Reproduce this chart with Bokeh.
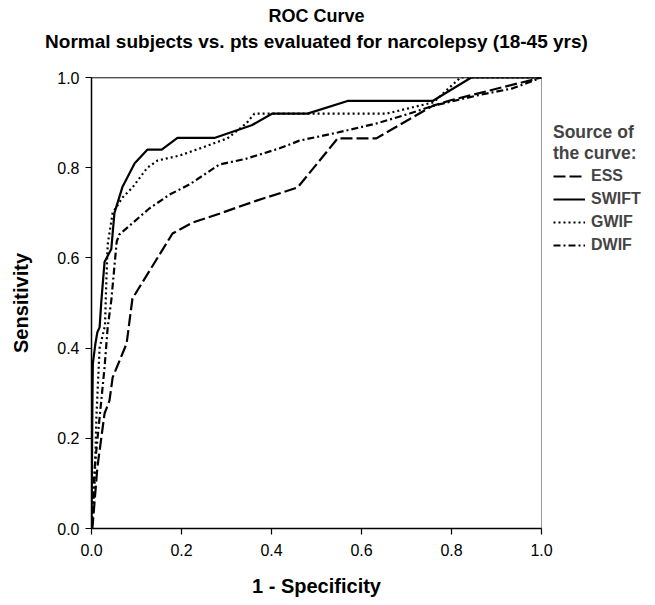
from bokeh.plotting import figure
from bokeh.models import Range1d, Legend, LegendItem, Title, Span, FixedTicker, NumeralTickFormatter
from bokeh.embed import file_html
from bokeh.resources import INLINE

FONT = "Liberation Sans"

title_text = "ROC Curve"
subtitle_text = "Normal subjects vs. pts evaluated for narcolepsy (18-45 yrs)"

ess_x = [0.0, 0.002, 0.013, 0.029, 0.04, 0.047, 0.078, 0.091, 0.18, 0.224, 0.284, 0.367, 0.458, 0.547, 0.633, 0.758, 0.8, 0.9, 1.0]
ess_y = [0.0, 0.0, 0.135, 0.255, 0.284, 0.335, 0.41, 0.51, 0.654, 0.678, 0.698, 0.727, 0.756, 0.865, 0.865, 0.937, 0.95, 0.975, 1.0]

swift_x = [0.0, 0.002, 0.003, 0.009, 0.013, 0.018, 0.022, 0.029, 0.044, 0.051, 0.069, 0.096, 0.124, 0.156, 0.191, 0.273, 0.356, 0.402, 0.48, 0.569, 0.758, 0.844, 1.0]
swift_y = [0.0, 0.28, 0.366, 0.412, 0.435, 0.446, 0.506, 0.591, 0.62, 0.7, 0.758, 0.81, 0.84, 0.84, 0.866, 0.866, 0.894, 0.92, 0.92, 0.948, 0.948, 1.0, 1.0]

gwif_x = [0.0, 0.007, 0.011, 0.018, 0.03, 0.033, 0.036, 0.047, 0.069, 0.091, 0.124, 0.147, 0.196, 0.247, 0.302, 0.344, 0.362, 0.656, 0.76, 0.82, 1.0]
gwif_y = [0.0, 0.1, 0.25, 0.4, 0.45, 0.55, 0.63, 0.70, 0.734, 0.756, 0.80, 0.816, 0.827, 0.845, 0.865, 0.898, 0.92, 0.92, 0.945, 1.0, 1.0]

dwif_x = [0.0, 0.007, 0.018, 0.029, 0.036, 0.044, 0.056, 0.062, 0.129, 0.173, 0.218, 0.284, 0.344, 0.418, 0.462, 0.547, 0.633, 0.707, 0.758, 0.856, 0.936, 1.0]
dwif_y = [0.0, 0.135, 0.246, 0.357, 0.446, 0.506, 0.636, 0.652, 0.71, 0.74, 0.763, 0.807, 0.82, 0.843, 0.86, 0.878, 0.898, 0.92, 0.937, 0.96, 0.976, 1.0]

series_names = ["ESS", "SWIFT", "GWIF", "DWIF"]
ticks = [0.0, 0.2, 0.4, 0.6, 0.8, 1.0]

p = figure(frame_width=450, frame_height=451, output_backend="svg", toolbar_location=None,
           x_range=Range1d(0, 1), y_range=Range1d(0, 1),
           min_border_left=91, min_border_right=99, min_border_bottom=70, min_border_top=0)

# the first "above" item sits nearest the frame: an empty spacer, then the subtitle;
# the plot title is outermost
p.add_layout(Title(text=" ", text_font_size="1px", standoff=23), "above")
p.add_layout(Title(text=subtitle_text, align="center", text_font=FONT, text_font_size="19px",
                   text_font_style="bold", text_color="black", standoff=0), "above")
p.title.text = title_text
p.title.align = "center"
p.title.text_font = FONT
p.title.text_font_size = "18px"
p.title.text_font_style = "bold"
p.title.text_color = "black"
p.title.standoff = 6

p.grid.visible = False
p.outline_line_color = "#9a9a9a"
p.outline_line_width = 1
p.background_fill_color = "white"
p.border_fill_color = "white"

for ax in (p.xaxis[0], p.yaxis[0]):
    ax.ticker = FixedTicker(ticks=ticks)
    ax.formatter = NumeralTickFormatter(format="0.0")
    ax.minor_tick_line_color = None
    ax.major_tick_in = 0
    ax.major_tick_out = 6
    ax.axis_line_color = "black"
    ax.axis_line_width = 1.5
    ax.major_tick_line_color = "black"
    ax.major_tick_line_width = 1.2
    ax.major_label_text_font = FONT
    ax.major_label_text_font_size = "16px"
    ax.major_label_text_color = "black"
    ax.axis_label_text_font = FONT
    ax.axis_label_text_font_size = "20px"
    ax.axis_label_text_font_style = "bold"
    ax.axis_label_text_color = "black"

p.xaxis.axis_label = "1 - Specificity"
p.yaxis.axis_label = "Sensitivity"
p.xaxis.major_label_standoff = 9
p.xaxis.axis_label_standoff = 16
p.yaxis.major_label_standoff = 6
p.yaxis.axis_label_standoff = 22

p.add_layout(Span(location=1.0, dimension="width", line_color="black", line_width=1.5))

lw = 2.2
r_ess = p.line(ess_x, ess_y, line_color="black", line_width=lw, line_dash="12 4")
r_swift = p.line(swift_x, swift_y, line_color="black", line_width=lw)
r_gwif = p.line(gwif_x, gwif_y, line_color="black", line_width=lw, line_dash="2 3")
r_dwif = p.line(dwif_x, dwif_y, line_color="black", line_width=lw, line_dash="7 3 2 3")

legend = Legend(items=[LegendItem(label=n, renderers=[r]) for n, r in
                       zip(series_names, [r_ess, r_swift, r_gwif, r_dwif])],
                title="Source of\nthe curve:",
                location=(12, 273), margin=0, padding=0, spacing=3,
                glyph_width=32, glyph_height=20, label_height=20, label_standoff=6,
                label_text_font=FONT, label_text_font_size="16px", label_text_font_style="bold",
                title_text_font=FONT, title_text_font_size="17.5px", title_text_font_style="bold",
                title_text_line_height=1.05,
                title_standoff=2, border_line_color=None, background_fill_alpha=0)
p.add_layout(legend, "right")

open("out.html", "w").write(file_html(p, INLINE))
